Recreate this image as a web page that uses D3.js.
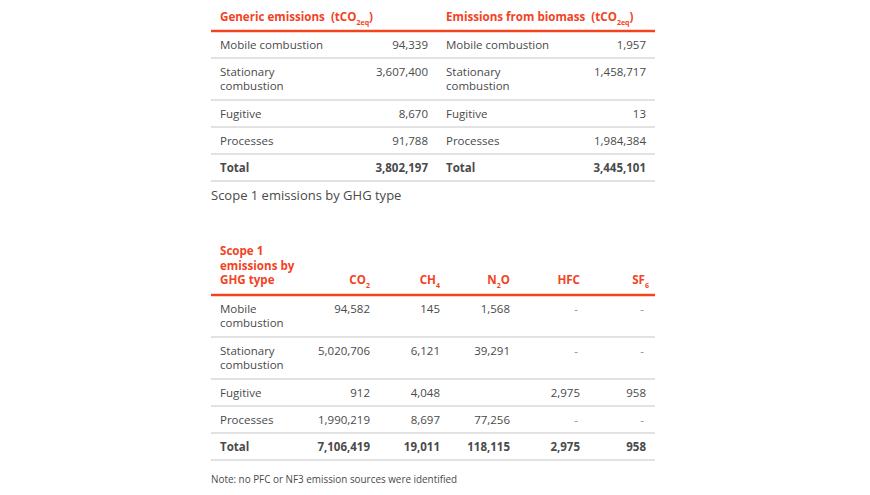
<!DOCTYPE html>
<html>
<head>
<meta charset="utf-8">
<script src="https://cdn.jsdelivr.net/npm/d3@7"></script>
<style>
  html, body { margin: 0; padding: 0; background: #fff; }
  svg { display: block; }
  text { font-family: "Open Sans", "Noto Sans", sans-serif; white-space: pre; }
</style>
</head>
<body>
<svg id="chart" width="870" height="495"></svg>
<script>
// ---------- DATA ----------
const topRowLabels = [["Mobile combustion"], ["Stationary", "combustion"], ["Fugitive"], ["Processes"], ["Total"]];
const genericValues = [94339, 3607400, 8670, 91788, 3802197];
const biomassValues = [1957, 1458717, 13, 1984384, 3445101];

const ghgRowLabels = [["Mobile", "combustion"], ["Stationary", "combustion"], ["Fugitive"], ["Processes"], ["Total"]];
const ghgTypes = [["CO", "2", ""], ["CH", "4", ""], ["N", "2", "O"], ["HFC", "", ""], ["SF", "6", ""]];
const co2Values = [94582, 5020706, 912, 1990219, 7106419];
const ch4Values = [145, 6121, 4048, 8697, 19011];
const n2oValues = [1568, 39291, null, 77256, 118115];
const hfcValues = ["-", "-", 2975, "-", 2975];
const sf6Values = ["-", "-", 958, "-", 958];

const ghgHeaderLines = ["Scope 1", "emissions by", "GHG type"];
const captionText = "Scope 1 emissions by GHG type";
const noteText = "Note: no PFC or NF3 emission sources were identified";

// ---------- STYLE ----------
const RED = "#f2431f";
const TXT = "#4a4a4a";
const GRID = "#d8d8d8";
const fmt = d3.format(",");
const FS = 11.5;      // body font size
const HFS = 11.6;     // header font size
const LINE = 14.5;    // line spacing inside a cell

const svg = d3.select("#chart");

function rowTops(start, labels) {
  const tops = [];
  let y = start;
  labels.forEach(l => { tops.push(y); y += 27 + (l.length - 1) * 15; });
  tops.push(y);
  return tops;
}

// ---------- TOP TABLES ----------
const topTops = rowTops(31, topRowLabels);
const yTop = d3.scaleOrdinal().domain(d3.range(topTops.length)).range(topTops);

const xTop = d3.scaleOrdinal()
  .domain(["gLabel", "gValue", "bLabel", "bValue", "start", "end"])
  .range([220, 428, 446, 646, 211, 655]);

const gTop = svg.append("g");

function headerWithSub(g, x, y, main) {
  const t = g.append("text").attr("x", x).attr("y", y)
    .attr("fill", RED).attr("font-weight", 700).attr("font-size", HFS);
  t.append("tspan").text(main + "  (tCO");
  t.append("tspan").attr("font-size", 7).attr("dy", 3.5).text("2eq");
  t.append("tspan").attr("dy", -3.5).text(")");
}
headerWithSub(gTop, xTop("gLabel"), 21, "Generic emissions");
headerWithSub(gTop, xTop("bLabel"), 21, "Emissions from biomass");

gTop.selectAll("line.grid").data(d3.range(1, topTops.length)).join("line")
  .attr("x1", xTop("start")).attr("x2", xTop("end"))
  .attr("y1", i => yTop(i)).attr("y2", i => yTop(i))
  .attr("stroke", GRID).attr("stroke-width", 1.5);
gTop.append("line")
  .attr("x1", xTop("start")).attr("x2", xTop("end"))
  .attr("y1", yTop(0)).attr("y2", yTop(0))
  .attr("stroke", RED).attr("stroke-width", 2.5);

function drawRows(g, labels, yScale, xLabel, valueCols, boldLast) {
  labels.forEach((lines, i) => {
    const bold = boldLast && i === labels.length - 1;
    const top = yScale(i);
    lines.forEach((ln, k) => {
      g.append("text").attr("x", xLabel).attr("y", top + 17.5 + k * LINE)
        .attr("fill", TXT).attr("font-size", FS).attr("font-weight", bold ? 700 : 400)
        .text(ln);
    });
    valueCols.forEach(vc => {
      const v = vc.values[i];
      if (v === null || v === undefined) return;
      const isDash = v === "-";
      g.append("text").attr("x", isDash ? vc.x - 2 : vc.x).attr("y", top + 17.5)
        .attr("text-anchor", "end")
        .attr("fill", isDash ? "#8a8a8a" : TXT)
        .attr("font-size", FS).attr("font-weight", bold ? 700 : 400)
        .text(isDash ? "-" : fmt(v));
    });
  });
}

drawRows(gTop, topRowLabels, yTop, xTop("gLabel"), [{ x: xTop("gValue"), values: genericValues }], true);
drawRows(gTop, topRowLabels, yTop, xTop("bLabel"), [{ x: xTop("bValue"), values: biomassValues }], true);

// caption
svg.append("text").attr("x", 211).attr("y", 200)
  .attr("fill", TXT).attr("font-size", 13).text(captionText);

// ---------- GHG TABLE ----------
const ghgTops = rowTops(295, ghgRowLabels);
const yG = d3.scaleOrdinal().domain(d3.range(ghgTops.length)).range(ghgTops);
const xG = d3.scaleOrdinal()
  .domain(["CO2", "CH4", "N2O", "HFC", "SF6"])
  .range([370, 440, 510, 580, 646]);
const colKeys = xG.domain();
const colValues = [co2Values, ch4Values, n2oValues, hfcValues, sf6Values];

const gG = svg.append("g");
gG.selectAll("line.grid").data(d3.range(1, ghgTops.length)).join("line")
  .attr("x1", 211).attr("x2", 655)
  .attr("y1", i => yG(i)).attr("y2", i => yG(i))
  .attr("stroke", GRID).attr("stroke-width", 1.5);
gG.append("line")
  .attr("x1", 211).attr("x2", 655)
  .attr("y1", yG(0)).attr("y2", yG(0))
  .attr("stroke", RED).attr("stroke-width", 2.5);

ghgHeaderLines.forEach((ln, k) => {
  gG.append("text").attr("x", 220).attr("y", 255 + k * 14.5)
    .attr("fill", RED).attr("font-weight", 700).attr("font-size", HFS).text(ln);
});

ghgTypes.forEach((parts, j) => {
  const t = gG.append("text").attr("x", xG(colKeys[j]) + (colKeys[j] === "SF6" ? 3 : 0)).attr("y", 284)
    .attr("text-anchor", "end").attr("fill", RED).attr("font-weight", 700).attr("font-size", HFS);
  t.append("tspan").text(parts[0]);
  if (parts[1]) t.append("tspan").attr("font-size", 7).attr("dy", 3.5).text(parts[1]);
  if (parts[2]) t.append("tspan").attr("dy", -3.5).text(parts[2]);
});

drawRows(gG, ghgRowLabels, yG, 220,
  colKeys.map((k, j) => ({ x: xG(k), values: colValues[j] })), true);

// note
svg.append("text").attr("x", 211).attr("y", 483)
  .attr("fill", TXT).attr("font-size", 9.9).text(noteText);
</script>
</body>
</html>
